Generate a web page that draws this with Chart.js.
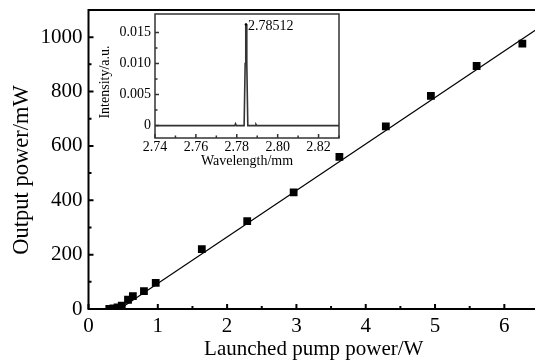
<!DOCTYPE html>
<html>
<head>
<meta charset="utf-8">
<script src="https://cdn.jsdelivr.net/npm/chart.js@4.4.0/dist/chart.umd.min.js"></script>
<style>
  html, body { margin: 0; padding: 0; background: #fff; overflow: hidden; }
  #wrap { position: relative; width: 545px; height: 362px; }
  #main { position: absolute; left: 0; top: 0; }
  #inset { position: absolute; left: 95px; top: 0; }
</style>
</head>
<body>
<div id="wrap">
  <canvas id="main" width="545" height="362"></canvas>
  <canvas id="inset" width="260" height="172"></canvas>
</div>
<script>
// Main plot: measured output power vs launched pump power
const pumpPower   = [0.30, 0.36, 0.42, 0.48, 0.57, 0.64, 0.80, 0.97, 1.635, 2.29, 2.96, 3.62, 4.29, 4.94, 5.60, 6.26];
const outputPower = [0, 2, 6, 12, 34, 47, 66, 96, 220, 323, 429, 560, 672, 784, 894, 976];

// linear fit, two end points
const fitPump   = [0.45, 6.5];
const fitOutput = [0, 1035];

const pumpTicks   = [0, 1, 2, 3, 4, 5, 6];
const pumpMinor   = [0.5, 1.5, 2.5, 3.5, 4.5, 5.5, 6.5];
const outputTicks = [0, 200, 400, 600, 800, 1000];
const outputMinor = [100, 300, 500, 700, 900, 1100];

// Inset: emission spectrum
const wavelength = [2.740, 2.7790, 2.7794, 2.7798, 2.7836, 2.7841, 2.7844, 2.7846, 2.7849, 2.7854, 2.7890, 2.7894, 2.7898, 2.830];
const intensity  = [0, 0, 0.0003, 0, 0, 0.0100, 0.0163, 0.0163, 0.0100, 0, 0, 0.0002, 0, 0];
const peakWavelength = 2.7845;
const peakIntensity  = 0.0163;
const peakLabel = '2.78512';

const waveTicks  = [2.74, 2.76, 2.78, 2.80, 2.82];
const waveMinor  = [2.75, 2.77, 2.79, 2.81, 2.83];
const intenTicks = [0, 0.005, 0.010, 0.015];
const intenMinor = [0.0025, 0.0075, 0.0125];

const SERIF = '"Liberation Serif", "Times New Roman", serif';

// ticks pointing into the plot + closed frame + optional rotated y title
function framePlugin(cfg) {
  return {
    id: 'frame',
    afterDraw(chart) {
      const { ctx, chartArea: a, scales: { x, y } } = chart;
      ctx.save();
      ctx.strokeStyle = cfg.color;
      ctx.lineWidth = cfg.width;
      ctx.beginPath();
      cfg.xMajor.forEach(v => { const p = x.getPixelForValue(v); ctx.moveTo(p, a.bottom); ctx.lineTo(p, a.bottom - cfg.major); });
      cfg.xMinor.forEach(v => { const p = x.getPixelForValue(v); ctx.moveTo(p, a.bottom); ctx.lineTo(p, a.bottom - cfg.minor); });
      cfg.yMajor.forEach(v => { const p = y.getPixelForValue(v); ctx.moveTo(a.left, p); ctx.lineTo(a.left + cfg.major, p); });
      cfg.yMinor.forEach(v => { const p = y.getPixelForValue(v); ctx.moveTo(a.left, p); ctx.lineTo(a.left + cfg.minor, p); });
      ctx.stroke();
      ctx.strokeRect(a.left, a.top, a.right - a.left, a.bottom - a.top);

      if (cfg.yTitle) {
        ctx.fillStyle = '#000';
        ctx.font = cfg.yTitle.size + 'px ' + SERIF;
        ctx.textAlign = 'center';
        ctx.textBaseline = 'middle';
        ctx.translate(cfg.yTitle.x, cfg.yTitle.y);
        ctx.rotate(-Math.PI / 2);
        ctx.fillText(cfg.yTitle.text, 0, 0);
      }
      ctx.restore();
    }
  };
}

new Chart(document.getElementById('main'), {
  data: {
    datasets: [{
      type: 'scatter',
      data: pumpPower.map((p, i) => ({ x: p, y: outputPower[i] })),
      pointStyle: 'rect',
      pointRadius: 5.5,
      backgroundColor: '#000',
      borderWidth: 0,
      order: 0
    }, {
      type: 'line',
      data: fitPump.map((p, i) => ({ x: p, y: fitOutput[i] })),
      borderColor: '#000',
      borderWidth: 1.2,
      pointRadius: 0,
      order: 1
    }]
  },
  options: {
    responsive: false,
    animation: false,
    layout: { padding: { left: 0, top: 10, right: 6, bottom: 0 } },
    plugins: { legend: { display: false }, tooltip: { enabled: false } },
    scales: {
      x: {
        type: 'linear', min: 0, max: 6.5,
        afterBuildTicks: s => { s.ticks = pumpTicks.map(v => ({ value: v })); },
        afterFit: s => { s.height = 53; s.paddingLeft = 0; s.paddingRight = 0; },
        ticks: { font: { family: SERIF, size: 21 }, color: '#000', padding: 5, maxRotation: 0, autoSkip: false,
                 callback: v => String(v) },
        grid: { display: false, drawTicks: false },
        border: { display: false },
        title: { display: true, text: 'Launched pump power/W', color: '#000', font: { family: SERIF, size: 21 }, padding: { top: 0, bottom: 0 } }
      },
      y: {
        type: 'linear', min: 0, max: 1100,
        afterBuildTicks: s => { s.ticks = outputTicks.map(v => ({ value: v })); },
        afterFit: s => { s.width = 88.5; s.paddingTop = 0; s.paddingBottom = 0; },
        ticks: { font: { family: SERIF, size: 21 }, color: '#000', padding: 6, callback: v => String(v) },
        grid: { display: false, drawTicks: false },
        border: { display: false }
      }
    }
  },
  plugins: [framePlugin({
    color: '#000', width: 2, major: 5, minor: 3,
    xMajor: pumpTicks, xMinor: pumpMinor, yMajor: outputTicks, yMinor: outputMinor,
    yTitle: { text: 'Output power/mW', x: 22, y: 170, size: 22.5 }
  })]
});

const peakText = {
  id: 'peakText',
  afterDatasetsDraw(chart) {
    const { ctx, scales: { x, y } } = chart;
    const px = x.getPixelForValue(peakWavelength);
    const py = y.getPixelForValue(peakIntensity);
    ctx.save();
    ctx.fillStyle = '#000';
    ctx.beginPath();
    ctx.arc(px, py, 1.3, 0, Math.PI * 2);
    ctx.fill();
    ctx.font = '14px ' + SERIF;
    ctx.textAlign = 'left';
    ctx.textBaseline = 'middle';
    ctx.fillText(peakLabel, px + 2, py + 2);
    ctx.restore();
  }
};

new Chart(document.getElementById('inset'), {
  type: 'line',
  data: {
    datasets: [{
      data: wavelength.map((w, i) => ({ x: w, y: intensity[i] })),
      borderColor: '#333',
      borderWidth: 1.6,
      pointRadius: 0,
      tension: 0
    }]
  },
  options: {
    responsive: false,
    animation: false,
    layout: { padding: { left: 0, top: 14, right: 16, bottom: 0 } },
    plugins: { legend: { display: false }, tooltip: { enabled: false } },
    scales: {
      x: {
        type: 'linear', min: 2.74, max: 2.83,
        afterBuildTicks: s => { s.ticks = waveTicks.map(v => ({ value: v })); },
        afterFit: s => { s.height = 34; },
        ticks: { font: { family: SERIF, size: 14 }, color: '#000', padding: 1, maxRotation: 0, autoSkip: false,
                 callback: v => v.toFixed(2) },
        grid: { display: false, drawTicks: false },
        border: { display: false },
        title: { display: true, text: 'Wavelength/mm', color: '#000', font: { family: SERIF, size: 14 }, padding: { top: 0, bottom: 2 } }
      },
      y: {
        type: 'linear', min: -0.002, max: 0.018,
        afterBuildTicks: s => { s.ticks = intenTicks.map(v => ({ value: v })); },
        afterFit: s => { s.width = 60; },
        ticks: { font: { family: SERIF, size: 14 }, color: '#000', padding: 4,
                 callback: v => v === 0 ? '0' : v.toFixed(3) },
        grid: { display: false, drawTicks: false },
        border: { display: false }
      }
    }
  },
  plugins: [peakText, framePlugin({
    color: '#333', width: 1.5, major: 4, minor: 2.5,
    xMajor: waveTicks, xMinor: waveMinor, yMajor: intenTicks, yMinor: intenMinor,
    yTitle: { text: 'Intensity/a.u.', x: 10, y: 82, size: 14 }
  })]
});
</script>
</body>
</html>
